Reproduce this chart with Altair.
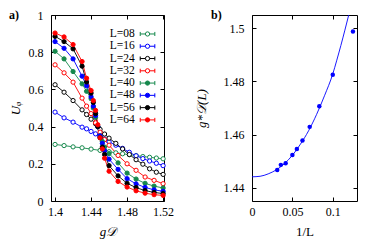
import altair as alt
import pandas as pd

FONT = "Liberation Serif"
GREEN = "#15884c"
BLUE = "#0000ff"
RED = "#ff0000"
BLACK = "#000000"

# ---------------- panel a data ----------------
series = ["L=08", "L=16", "L=24", "L=32", "L=40", "L=48", "L=56", "L=64"]
stroke_colors = [GREEN, BLUE, BLACK, RED, GREEN, BLUE, BLACK, RED]
fill_colors = ["white", "white", "white", "white", GREEN, BLUE, BLACK, RED]

g_L08 = [1.40, 1.41, 1.42, 1.43, 1.44, 1.45, 1.46, 1.4675, 1.475, 1.4825, 1.49, 1.4975, 1.505, 1.5125, 1.52]
u_L08 = [0.304, 0.298, 0.291, 0.286, 0.279, 0.272, 0.265, 0.259, 0.254, 0.249, 0.244, 0.239, 0.235, 0.231, 0.227]

g_open = [1.40, 1.41, 1.42, 1.43, 1.435, 1.44, 1.445, 1.45, 1.455, 1.46, 1.4675, 1.475, 1.4825, 1.49, 1.4975, 1.505, 1.5125, 1.52]
u_L16 = [0.478, 0.447, 0.424, 0.397, 0.388, 0.374, 0.361, 0.345, 0.333, 0.318, 0.300, 0.283, 0.262, 0.243, 0.228, 0.215, 0.203, 0.190]
u_L24 = [0.625, 0.585, 0.540, 0.490, 0.465, 0.440, 0.415, 0.385, 0.360, 0.338, 0.310, 0.280, 0.250, 0.222, 0.198, 0.173, 0.155, 0.143]

g_L32 = [1.40, 1.41, 1.42, 1.43, 1.435, 1.44, 1.445, 1.45, 1.455, 1.46, 1.47, 1.48, 1.49, 1.50, 1.51, 1.52]
u_L32 = [0.732, 0.689, 0.639, 0.553, 0.510, 0.470, 0.420, 0.370, 0.330, 0.300, 0.245, 0.200, 0.165, 0.129, 0.111, 0.093]

g_fine = [1.40, 1.41, 1.42, 1.43, 1.435, 1.44, 1.4425, 1.445, 1.4475, 1.45, 1.4525, 1.455, 1.46, 1.47, 1.48, 1.49, 1.50, 1.51, 1.52]
u_L40 = [0.805, 0.764, 0.696, 0.630, 0.590, 0.550, 0.500, 0.450, 0.400, 0.350, 0.320, 0.290, 0.255, 0.205, 0.150, 0.118, 0.095, 0.080, 0.070]
u_L48 = [0.857, 0.821, 0.764, 0.671, 0.620, 0.560, 0.510, 0.460, 0.400, 0.350, 0.310, 0.270, 0.225, 0.170, 0.120, 0.092, 0.073, 0.060, 0.052]
u_L56 = [0.885, 0.857, 0.818, 0.725, 0.640, 0.580, 0.530, 0.470, 0.400, 0.340, 0.290, 0.250, 0.190, 0.135, 0.095, 0.072, 0.056, 0.046, 0.040]
u_L64 = [0.903, 0.882, 0.841, 0.750, 0.660, 0.594, 0.540, 0.487, 0.410, 0.340, 0.280, 0.230, 0.160, 0.105, 0.075, 0.055, 0.042, 0.034, 0.030]

x_ticks_a = [1.40, 1.44, 1.48, 1.52]
y_ticks_a = [0, 0.2, 0.4, 0.6, 0.8, 1.0]

# ---------------- panel b data ----------------
inv_L = [1 / 32, 1 / 28, 1 / 24, 1 / 20, 1 / 18, 1 / 16, 1 / 14, 1 / 12, 1 / 10, 1 / 8]
g_star = [1.4467, 1.4486, 1.4492, 1.4523, 1.4546, 1.4578, 1.4629, 1.4707, 1.4825, 1.4988]
fit_x = [0.0, 0.01, 0.02, 0.03, 0.04, 0.05, 0.06, 0.07, 0.08, 0.09, 0.10, 0.105, 0.11, 0.115, 0.12, 0.125]
fit_y = [1.4441, 1.4443, 1.4452, 1.4467, 1.4490, 1.4522, 1.4564, 1.4614, 1.4676, 1.4748, 1.4828, 1.4880, 1.4935, 1.4993, 1.5053, 1.5115]
x_ticks_b = [0, 0.05, 0.1]
y_ticks_b = [1.44, 1.46, 1.48, 1.50]

# ---------------- tables ----------------
rows = []
for name, gs, us in zip(series,
                        [g_L08, g_open, g_open, g_L32, g_fine, g_fine, g_fine, g_fine],
                        [u_L08, u_L16, u_L24, u_L32, u_L40, u_L48, u_L56, u_L64]):
    for g, u in zip(gs, us):
        rows.append({"L": name, "g": g, "U": u, "k": series.index(name)})
df_a = pd.DataFrame(rows)

LEG_TOP, LEG_STEP = 0.898, 0.066
df_leg = pd.DataFrame({
    "L": series,
    "ly": [LEG_TOP - LEG_STEP * i for i in range(len(series))],
    "lx": [1.4885] * len(series),
    "bx": [1.5027] * len(series),
})

df_b = pd.DataFrame({"x": inv_L, "y": g_star})
df_fit = pd.DataFrame({"x": fit_x, "y": fit_y})

# ---------------- helpers ----------------
def ax(orient, values=None, labels=True, title=None, **kw):
    d = dict(orient=orient, tickSize=4, offset=-4, domain=False, grid=False,
             labels=labels, tickColor="black")
    if values is not None:
        d["values"] = values
    if labels:
        d["format"] = "~g"
        d["labelFlush"] = False
        d["labelOverlap"] = False
    d["title"] = title
    d.update(kw)
    return alt.Axis(**d)

ERRBAR = "M-1,0H1M-1,-0.28V0.28M1,-0.28V0.28"

xs_a = alt.Scale(domain=[1.3955, 1.521], nice=False, zero=False)
ys_a = alt.Scale(domain=[0, 1], nice=False, zero=False)
stroke_scale = alt.Scale(domain=series, range=stroke_colors)
fill_scale = alt.Scale(domain=series, range=fill_colors)

# ---------------- panel a ----------------
lines_a = alt.Chart(df_a).mark_line(strokeWidth=0.9).encode(
    x=alt.X("g:Q", scale=xs_a,
            axis=ax("bottom", x_ticks_a, labelPadding=5, title="g𝒟", titlePadding=8,
                    titleFontStyle="italic")),
    y=alt.Y("U:Q", scale=ys_a,
            axis=ax("left", y_ticks_a, labelPadding=8, title="Uᵩ", titleX=-40,
                    titleBaseline="middle", titleFontStyle="italic")),
    stroke=alt.Stroke("L:N", scale=stroke_scale, legend=None),
    detail="L:N",
)
points_a = alt.Chart(df_a).mark_point(filled=True, size=18, strokeWidth=1, opacity=1).encode(
    x=alt.X("g:Q", scale=xs_a, axis=ax("top", x_ticks_a, labels=False)),
    y=alt.Y("U:Q", scale=ys_a, axis=ax("right", y_ticks_a, labels=False)),
    stroke=alt.Stroke("L:N", scale=stroke_scale, legend=None),
    fill=alt.Fill("L:N", scale=fill_scale, legend=None),
    order=alt.Order("k:Q"),
)
leg_text = alt.Chart(df_leg).mark_text(align="right", baseline="middle", font=FONT, fontSize=11.5).encode(
    x=alt.X("lx:Q", scale=xs_a, axis=None),
    y=alt.Y("ly:Q", scale=ys_a, axis=None),
    text="L:N",
)
leg_bar = alt.Chart(df_leg).mark_point(shape=ERRBAR, size=213, strokeWidth=1, filled=False, opacity=1).encode(
    x=alt.X("bx:Q", scale=xs_a, axis=None),
    y=alt.Y("ly:Q", scale=ys_a, axis=None),
    stroke=alt.Stroke("L:N", scale=stroke_scale, legend=None),
)
leg_pt = alt.Chart(df_leg).mark_point(filled=True, size=18, strokeWidth=1, opacity=1).encode(
    x=alt.X("bx:Q", scale=xs_a, axis=None),
    y=alt.Y("ly:Q", scale=ys_a, axis=None),
    stroke=alt.Stroke("L:N", scale=stroke_scale, legend=None),
    fill=alt.Fill("L:N", scale=fill_scale, legend=None),
)
lab_a = alt.Chart(pd.DataFrame({"t": ["a)"]})).mark_text(
    align="left", baseline="middle", font=FONT, fontSize=12, fontWeight="bold").encode(
    x=alt.value(-42), y=alt.value(0), text="t:N")

panel_a = alt.layer(lines_a, points_a, leg_bar, leg_pt, leg_text, lab_a).resolve_axis(
    x="independent", y="independent").properties(width=113, height=186)

# ---------------- panel b ----------------
xs_b = alt.Scale(domain=[0, 0.13], nice=False, zero=False)
ys_b = alt.Scale(domain=[1.435, 1.505], nice=False, zero=False)

fit_b = alt.Chart(df_fit).mark_line(strokeWidth=0.9, color=BLUE, interpolate="monotone", clip=True).encode(
    x=alt.X("x:Q", scale=xs_b,
            axis=ax("bottom", x_ticks_b, labelPadding=5, title="1/L", titlePadding=8)),
    y=alt.Y("y:Q", scale=ys_b,
            axis=ax("left", y_ticks_b, labelPadding=8, title="g*𝒟(L)", titleX=-55,
                    titleBaseline="middle", titleFontStyle="italic")),
)
pts_b = alt.Chart(df_b).mark_point(filled=True, size=20, color=BLUE, opacity=1).encode(
    x=alt.X("x:Q", scale=xs_b, axis=ax("top", x_ticks_b, labels=False)),
    y=alt.Y("y:Q", scale=ys_b, axis=ax("right", y_ticks_b, labels=False)),
)
lab_b = alt.Chart(pd.DataFrame({"t": ["b)"]})).mark_text(
    align="left", baseline="middle", font=FONT, fontSize=12, fontWeight="bold").encode(
    x=alt.value(-41), y=alt.value(0), text="t:N")

panel_b = alt.layer(fit_b, pts_b, lab_b).resolve_axis(
    x="independent", y="independent").properties(width=105, height=186)

chart = alt.hconcat(panel_a, panel_b, spacing=19).properties(
    padding={"left": 0, "top": 0, "right": 0, "bottom": 0},
    background="white",
).configure_view(stroke="black", strokeWidth=1).configure_axis(
    labelFont=FONT, titleFont=FONT, labelFontSize=12, titleFontSize=13,
    labelColor="black", titleColor="black", titleFontWeight="normal",
)

chart.save("out.html", embed_options={"renderer": "svg", "actions": False})
